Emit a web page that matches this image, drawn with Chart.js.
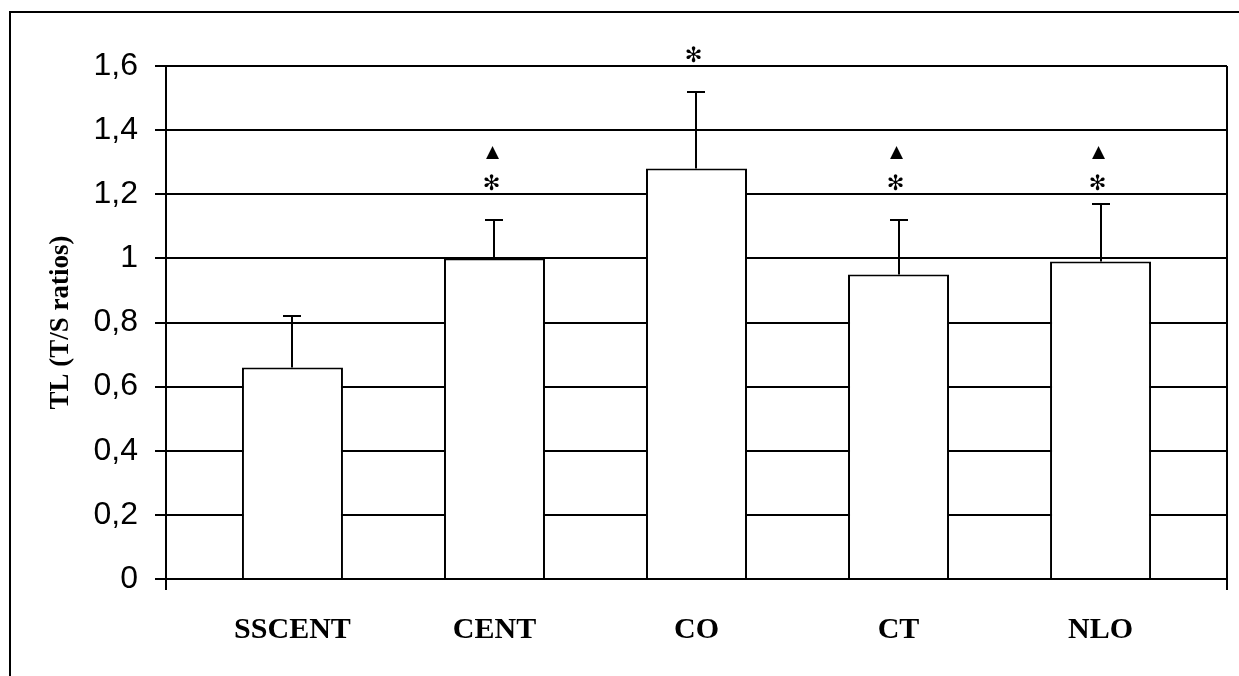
<!DOCTYPE html>
<html>
<head>
<meta charset="utf-8">
<script src="https://cdn.jsdelivr.net/npm/chart.js@4"></script>
<style>
  body { margin: 0; background: #fff; }
  #wrap { width: 1239px; height: 676px; position: relative; }
</style>
</head>
<body>
<div id="wrap"><canvas id="chart"></canvas></div>
<script>
const categories = ["SSCENT", "CENT", "CO", "CT", "NLO"];
const means = [0.66, 1.00, 1.28, 0.95, 0.99];
const errors = [0.16, 0.12, 0.24, 0.17, 0.18];
// where the significance marks sit, in y units (null = none)
const starAt = [null, 1.23, 1.63, 1.23, 1.23];
const triAt = [null, 1.33, null, 1.33, 1.33];
const yTicks = [0, 0.2, 0.4, 0.6, 0.8, 1, 1.2, 1.4, 1.6];

function fmt(v) {
  return String(Math.round(v * 10) / 10).replace('.', ',');
}

const overlay = {
  id: 'overlay',
  afterDatasetsDraw(chart) {
    const { ctx, chartArea: a, scales: { x, y } } = chart;
    ctx.save();
    ctx.strokeStyle = '#000';
    ctx.lineWidth = 2;

    // error bars (upper only)
    means.forEach((m, i) => {
      const px = Math.round(x.getPixelForValue(i));
      const y0 = y.getPixelForValue(m);
      const y1 = Math.round(y.getPixelForValue(m + errors[i]));
      ctx.beginPath();
      ctx.moveTo(px, y0);
      ctx.lineTo(px, y1);
      ctx.moveTo(px - 9, y1);
      ctx.lineTo(px + 9, y1);
      ctx.stroke();
    });

    // right edge of plot + tick marks at ends of x axis
    ctx.beginPath();
    ctx.moveTo(a.right, a.top);
    ctx.lineTo(a.right, a.bottom + 11);
    ctx.moveTo(a.left, a.bottom);
    ctx.lineTo(a.left, a.bottom + 11);
    ctx.stroke();

    // outer frame
    ctx.beginPath();
    ctx.moveTo(10, 676);
    ctx.lineTo(10, 12);
    ctx.lineTo(1239, 12);
    ctx.stroke();

    // significance marks
    ctx.fillStyle = '#000';
    ctx.textAlign = 'center';
    ctx.textBaseline = 'middle';
    starAt.forEach((s, i) => {
      if (s == null) return;
      ctx.font = 'bold 21px "DejaVu Sans"';
      ctx.fillText('\u273B', x.getPixelForValue(i) - 3, y.getPixelForValue(s));
    });
    triAt.forEach((t, i) => {
      if (t == null) return;
      ctx.font = '17px "DejaVu Sans"';
      ctx.fillText('\u25B2', x.getPixelForValue(i) - 2, y.getPixelForValue(t));
    });
    ctx.restore();
  }
};

new Chart(document.getElementById('chart'), {
  type: 'bar',
  data: {
    datasets: [{
      data: means.map((m, i) => ({ x: i, y: m })),
      backgroundColor: '#fff',
      borderColor: '#000',
      borderWidth: 2,
      categoryPercentage: 1,
      barPercentage: 0.5
    }]
  },
  options: {
    responsive: true,
    maintainAspectRatio: false,
    animation: false,
    layout: { padding: { top: 66, right: 12, bottom: 0, left: 0 } },
    plugins: { legend: { display: false }, tooltip: { enabled: false } },
    scales: {
      x: {
        type: 'linear',
        offset: false,
        min: -0.626,
        max: 4.626,
        afterBuildTicks: s => { s.ticks = categories.map((c, i) => ({ value: i })); },
        afterFit: s => { s.height = 97; },
        grid: { display: false, drawTicks: false },
        border: { display: true, color: '#000', width: 2 },
        ticks: {
          autoSkip: false,
          maxRotation: 0,
          padding: 33,
          color: '#000',
          font: { family: '"Liberation Serif"', size: 30, weight: 'bold' },
          callback: v => categories[v]
        }
      },
      y: {
        min: 0,
        max: 1.6,
        afterBuildTicks: s => { s.ticks = yTicks.map(v => ({ value: v })); },
        afterFit: s => { s.width = 166; },
        grid: { color: '#000', lineWidth: 2, tickLength: 11 },
        border: { display: true, color: '#000', width: 2 },
        ticks: {
          padding: 17,
          color: '#000',
          font: { family: '"Liberation Sans"', size: 32 },
          callback: v => fmt(v)
        },
        title: {
          display: true,
          text: 'TL (T/S ratios)',
          color: '#000',
          padding: { top: 45, bottom: 0 },
          font: { family: '"Liberation Serif"', size: 27, weight: 'bold' }
        }
      }
    }
  },
  plugins: [overlay]
});
</script>
</body>
</html>
